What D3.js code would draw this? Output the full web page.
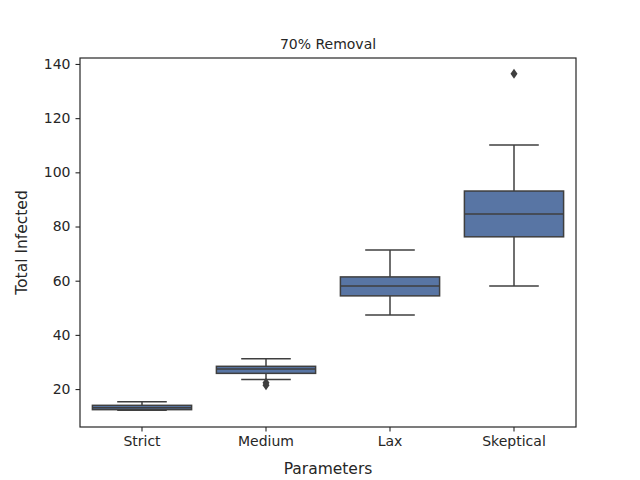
<!DOCTYPE html><html><head><script src="https://cdn.jsdelivr.net/npm/d3@7"></script>
<style>body{margin:0;background:#fff}text{font-family:"DejaVu Sans",sans-serif;fill:#262626}</style></head><body><svg width="640" height="480"></svg><script>
const categories=["Strict","Medium","Lax","Skeptical"];
const whiskLow=[12.2,23.5,47.3,58];
const q1=[12.4,25.8,54.4,76.2];
const median=[13.1,27.4,58,84.6];
const q3=[14.0,28.4,61.4,93.1];
const whiskHigh=[15.3,31.2,71.3,110.1];
const outliers=[[],[22.3,21.4],[],[136.4]];
const yTicks=[20,40,60,80,100,120,140];
const svg=d3.select("svg"),L=80,R=576,T=58,B=427;
const x=d3.scaleBand().domain(categories).range([L,R]);
const y=d3.scaleLinear().domain([6,142.2]).range([B,T]);
const g=svg.append("g");
const col="#3f3f3f",fill="#5875a4";
categories.forEach((c,i)=>{
 const cx=x(c)+x.bandwidth()/2,w=x.bandwidth()*0.8,hw=w/4;
 g.append("line").attr("x1",cx).attr("x2",cx).attr("y1",y(whiskLow[i])).attr("y2",y(q1[i])).attr("stroke",col).attr("stroke-width",1.5);
 g.append("line").attr("x1",cx).attr("x2",cx).attr("y1",y(whiskHigh[i])).attr("y2",y(q3[i])).attr("stroke",col).attr("stroke-width",1.5);
 [whiskLow[i],whiskHigh[i]].forEach(v=>g.append("line").attr("x1",cx-hw).attr("x2",cx+hw).attr("y1",y(v)).attr("y2",y(v)).attr("stroke",col).attr("stroke-width",1.5));
 g.append("rect").attr("x",cx-w/2).attr("width",w).attr("y",y(q3[i])).attr("height",y(q1[i])-y(q3[i])).attr("fill",fill).attr("stroke",col).attr("stroke-width",1.5);
 g.append("line").attr("x1",cx-w/2).attr("x2",cx+w/2).attr("y1",y(median[i])).attr("y2",y(median[i])).attr("stroke",col).attr("stroke-width",1.5);
 outliers[i].forEach(v=>g.append("path").attr("d",`M${cx},${y(v)-5}L${cx+3.5},${y(v)}L${cx},${y(v)+5}L${cx-3.5},${y(v)}Z`).attr("fill",col));
});
const xa=svg.append("g").attr("transform",`translate(0,${B})`).call(d3.axisBottom(x).tickSize(4.5).tickPadding(5));
const ya=svg.append("g").attr("transform",`translate(${L},0)`).call(d3.axisLeft(y).tickValues(yTicks).tickSize(4.5).tickPadding(5));
[xa,ya].forEach(a=>{a.select(".domain").remove();a.selectAll("text").attr("font-size",14.5).style("font-size","14px");a.selectAll("line").attr("stroke","#262626").attr("stroke-width",1.1);});
svg.append("rect").attr("x",L).attr("y",T).attr("width",R-L).attr("height",B-T).attr("fill","none").attr("stroke","#262626").attr("stroke-width",1.2);
svg.append("text").attr("x",(L+R)/2).attr("y",T-9).attr("text-anchor","middle").attr("font-size",14).text("70% Removal");
svg.append("text").attr("x",(L+R)/2).attr("y",474).attr("text-anchor","middle").attr("font-size",15.5).text("Parameters");
svg.append("text").attr("transform",`translate(27,${(T+B)/2})rotate(-90)`).attr("text-anchor","middle").attr("font-size",15.5).text("Total Infected");
</script></body></html>
